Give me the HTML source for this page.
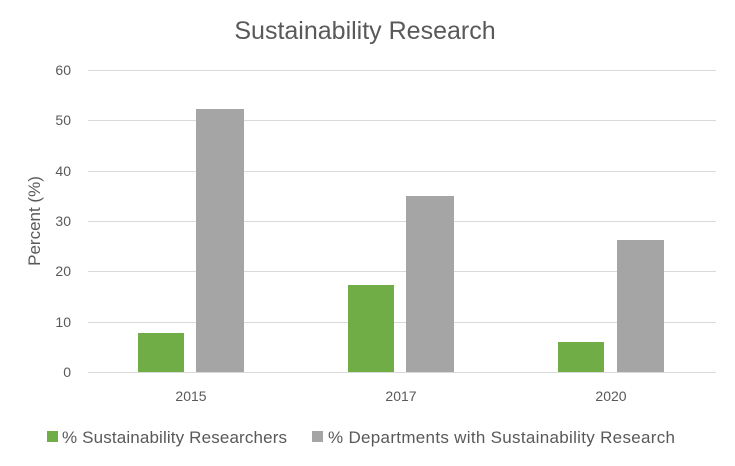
<!DOCTYPE html>
<html><head><style>
body{margin:0;background:#fff;}
svg text{font-family:"Liberation Sans",sans-serif;fill:#595959;}
</style></head><body>
<svg width="735" height="461" xmlns="http://www.w3.org/2000/svg">
<rect width="735" height="461" fill="#fff"/>
<text x="365" y="39" font-size="25" text-anchor="middle">Sustainability Research</text>
<g stroke="#d9d9d9" stroke-width="1">
<line x1="88" y1="70.5" x2="716" y2="70.5"/>
<line x1="88" y1="120.5" x2="716" y2="120.5"/>
<line x1="88" y1="171.5" x2="716" y2="171.5"/>
<line x1="88" y1="221.5" x2="716" y2="221.5"/>
<line x1="88" y1="271.5" x2="716" y2="271.5"/>
<line x1="88" y1="322.5" x2="716" y2="322.5"/>
<line x1="88" y1="372.5" x2="716" y2="372.5"/>
</g>
<g font-size="14" text-anchor="end">
<text x="71" y="75">60</text><text x="71" y="125">50</text><text x="71" y="176">40</text>
<text x="71" y="226">30</text><text x="71" y="276">20</text><text x="71" y="327">10</text><text x="71" y="377">0</text>
</g>
<text transform="translate(40,221) rotate(-90)" font-size="17" text-anchor="middle">Percent (%)</text>
<g fill="#70ad47">
<rect x="138" y="333" width="46" height="39"/>
<rect x="348" y="285" width="46" height="87"/>
<rect x="558" y="342" width="46" height="30"/>
</g>
<g fill="#a5a5a5">
<rect x="196" y="109" width="48" height="263"/>
<rect x="406" y="196" width="48" height="176"/>
<rect x="617" y="240" width="47" height="132"/>
</g>
<g font-size="14" text-anchor="middle">
<text x="191" y="401">2015</text><text x="401" y="401">2017</text><text x="611" y="401">2020</text>
</g>
<rect x="47" y="431" width="11" height="11" fill="#70ad47"/>
<text x="62" y="443" font-size="17" textLength="225">% Sustainability Researchers</text>
<rect x="312" y="431" width="11" height="11" fill="#a5a5a5"/>
<text x="328" y="443" font-size="17" textLength="347">% Departments with Sustainability Research</text>
</svg>
</body></html>
